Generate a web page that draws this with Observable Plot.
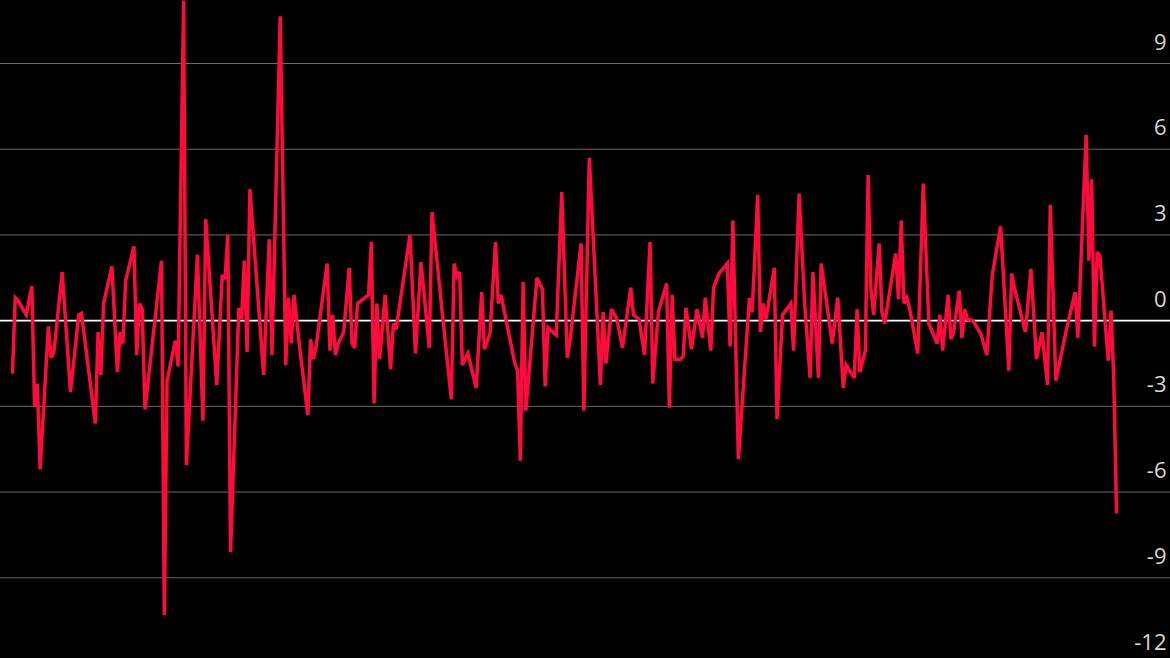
<!DOCTYPE html>
<html>
<head>
<meta charset="utf-8">
<script src="https://cdn.jsdelivr.net/npm/d3@7"></script>
<script src="https://cdn.jsdelivr.net/npm/@observablehq/plot@0.6"></script>
<style>
  html, body { margin: 0; padding: 0; background: #000; }
  #chart { width: 1170px; height: 658px; overflow: hidden; }
</style>
</head>
<body>
<div id="chart"></div>
<script>
// Period index (visible turning points of the series) and values
const periods = [0,1,2,5,7,8,9,10,13,14,15,18,21,24,25,30,31,32,33,36,38,39,40,41,44,45,46,47,48,54,55,56,59,60,62,63,67,69,70,74,76,77,78,79,82,83,84,85,86,91,93,94,97,99,100,101,102,104,107,108,109,110,114,115,116,117,118,120,122,123,124,125,129,130,131,132,133,134,135,137,138,139,144,146,148,151,152,156,159,160,161,162,163,165,168,170,171,173,175,176,177,182,183,184,185,186,190,192,193,194,197,199,201,202,206,207,209,213,214,215,217,219,221,224,225,227,229,231,232,234,237,238,239,240,242,243,244,246,248,250,251,253,254,256,259,260,261,263,267,268,270,271,272,273,276,277,279,282,283,285,287,289,290,292,293,297,299,301,302,305,306,307,309,310,311,312,314,315,316,320,321,322,323,324,325,328,330,332,335,336,337,339,340,341,343,344,345,346,348,351,353,355,358,361,362,363,367,369,371,373,375,376,378,382,385,386,389,390,391,392,393,394,397,398,399,400];
const values = [-1.8,0.8,0.7,0.2,1.2,-3.0,-2.2,-5.2,-0.2,-1.3,-1.1,1.7,-2.5,0.2,0.25,-3.6,-0.4,-1.9,0.6,1.9,-1.8,-0.4,-0.8,1.4,2.6,-1.2,0.6,0.4,-3.1,2.1,-10.3,-2.1,-0.7,-1.6,11.2,-5.05,2.3,-3.5,3.55,-2.25,1.6,1.45,3.0,-8.1,0.45,0.05,2.1,-1.1,4.6,-1.9,2.85,-1.2,10.65,-1.55,0.8,-0.8,0.9,-0.9,-3.3,-0.65,-1.35,-0.9,2.0,-1.05,0.2,-1.2,-0.8,-0.4,1.85,-0.8,-0.95,0.6,0.9,2.75,-2.9,0.6,-1.35,-0.25,0.9,-1.7,-0.1,-0.3,3.0,-1.15,2.05,-0.95,3.8,0.0,-2.75,2.0,1.55,1.7,-1.55,-1.15,-2.35,1.0,-1.0,-0.45,2.75,0.6,0.9,-1.5,-1.75,-4.9,1.35,-3.15,1.5,1.1,-2.3,-0.25,-0.5,4.5,-1.3,-0.7,2.7,-3.15,5.7,-2.25,0.3,-1.5,0.4,0.05,-0.95,1.15,0.2,0.05,-1.2,2.75,-2.2,0.3,1.3,-3.05,0.9,-1.35,-1.35,-1.25,0.45,-1.0,0.4,-0.6,0.8,-1.05,1.15,1.65,2.0,-0.9,3.5,-4.85,0.8,0.3,4.4,-0.4,0.6,0.05,1.85,-3.45,0.2,0.6,-1.05,4.45,0.6,-2.0,1.7,-2.0,2.0,-0.8,0.8,-2.35,-1.55,-2.0,0.4,-1.8,-1.05,5.1,1.15,0.2,2.7,0.3,-0.1,2.35,0.75,3.5,0.6,0.8,0.45,-1.15,4.8,-0.1,-0.8,0.2,-1.05,0.9,-0.65,-0.4,1.05,-0.6,0.4,0.05,0.0,-0.5,-1.2,1.6,3.3,-1.75,1.65,1.15,-0.4,1.8,-1.35,-0.4,-2.25,4.05,-2.1,-0.25,1.0,-0.6,6.5,2.1,4.95,-0.9,2.4,2.25,-1.4,0.35,-2.0,-6.7];
const yTicks = [9, 6, 3, 0, -3, -6, -9, -12];

const data = periods.map((t, i) => ({t, v: values[i]}));

const chart = Plot.plot({
  width: 1170,
  height: 658,
  marginTop: 0, marginRight: 0, marginBottom: 0, marginLeft: 0,
  style: {background: "#000", overflow: "visible"},
  x: {domain: [0, 400], range: [12, 1116], axis: null},
  y: {domain: [-12, 9], range: [663, 63], axis: null},
  marks: [
    Plot.ruleY(yTicks.filter(d => d !== 0), {stroke: "#6a6a6a", strokeWidth: 1}),
    Plot.ruleY([0], {stroke: "#ffffff", strokeWidth: 1.6}),
    Plot.line(data, {x: "t", y: "v", stroke: "#ff0a3c", strokeWidth: 3.5, strokeLinejoin: "miter", strokeMiterlimit: 3}),
    Plot.text(yTicks, {
      y: d => d,
      frameAnchor: "right",
      text: d => String(d),
      dx: -4,
      dy: -21,
      textAnchor: "end",
      fill: "#d8d8d8",
      fontSize: 22,
      fontFamily: "'Open Sans', 'Noto Sans', sans-serif"
    })
  ]
});
document.getElementById("chart").appendChild(chart);
</script>
</body>
</html>
